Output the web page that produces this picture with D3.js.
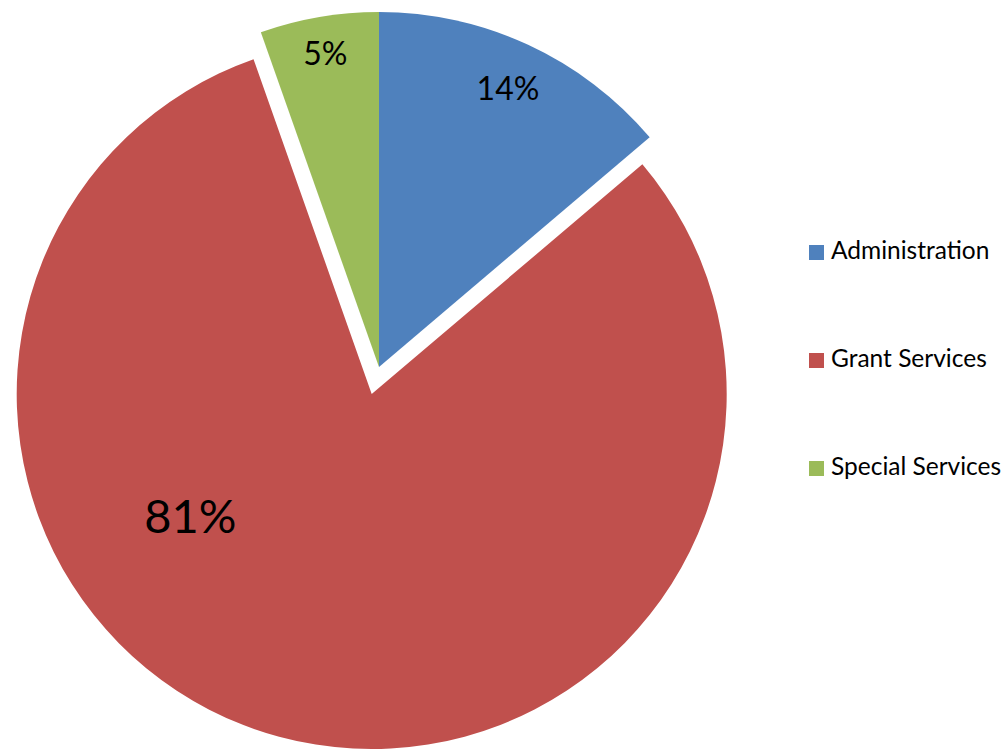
<!DOCTYPE html>
<html>
<head>
<meta charset="utf-8">
<script src="https://cdn.jsdelivr.net/npm/d3@7"></script>
<style>
  body { margin: 0; background: #fff; }
  svg { display: block; font-family: Lato, "Open Sans", sans-serif; }
</style>
</head>
<body>
<svg id="svg1" width="1006" height="751"></svg>
<script>
// data (percent of total)
var categories = ['Administration', 'Grant Services', 'Special Services'];
var values = [13.8, 80.8, 5.4];
var colors = ['#4F81BD', '#C0504D', '#9BBB59'];
var exploded = [false, true, false];

var svg = d3.select('#svg1');

var cx = 379, cy = 367;
var radius = 355;
var explodeBy = 28;

var pie = d3.pie().sort(null).value(function(d){ return d; });
var arc = d3.arc().innerRadius(0).outerRadius(radius);
var slices = pie(values);
var total = d3.sum(values);

var g = svg.append('g').attr('transform', 'translate(' + cx + ',' + cy + ')');

// where the slice is pushed out along its bisector
function shift(d, i){
    if (!exploded[i]) return [0, 0];
    var a = (d.startAngle + d.endAngle) / 2;
    return [Math.sin(a) * explodeBy, -Math.cos(a) * explodeBy];
}

var slice = g.selectAll('.slice')
    .data(slices)
    .enter()
    .append('g')
    .attr('class', 'slice')
    .attr('transform', function(d, i){
        var s = shift(d, i);
        return 'translate(' + s[0] + ',' + s[1] + ')';
    });

slice.append('path')
    .attr('d', arc)
    .attr('fill', function(d, i){ return colors[i]; });

// label placement: fraction of radius and angle nudge (deg) like Excel's best fit
var labelR = [0.865, 0.615, 0.895];
var labelTurn = [0, 41, 0];
var labelSize = [32, 47, 32];

slice.append('text')
    .attr('x', function(d, i){
        var a = (d.startAngle + d.endAngle) / 2 + labelTurn[i] * Math.PI / 180;
        return Math.sin(a) * radius * labelR[i];
    })
    .attr('y', function(d, i){
        var a = (d.startAngle + d.endAngle) / 2 + labelTurn[i] * Math.PI / 180;
        return -Math.cos(a) * radius * labelR[i];
    })
    .attr('text-anchor', 'middle')
    .attr('dy', '0.36em')
    .attr('font-size', function(d, i){ return labelSize[i]; })
    .attr('fill', '#000')
    .text(function(d){ return Math.round(d.value / total * 100) + '%'; });

// legend
var legend = svg.append('g').attr('transform', 'translate(809,245)');
var item = legend.selectAll('.item')
    .data(categories)
    .enter()
    .append('g')
    .attr('class', 'item')
    .attr('transform', function(d, i){ return 'translate(0,' + (i * 108) + ')'; });

item.append('rect')
    .attr('width', 15)
    .attr('height', 15)
    .attr('fill', function(d, i){ return colors[i]; });

item.append('text')
    .attr('x', 22)
    .attr('y', 14)
    .attr('font-size', 24.5)
    .attr('fill', '#000')
    .text(function(d){ return d; });
</script>
</body>
</html>
